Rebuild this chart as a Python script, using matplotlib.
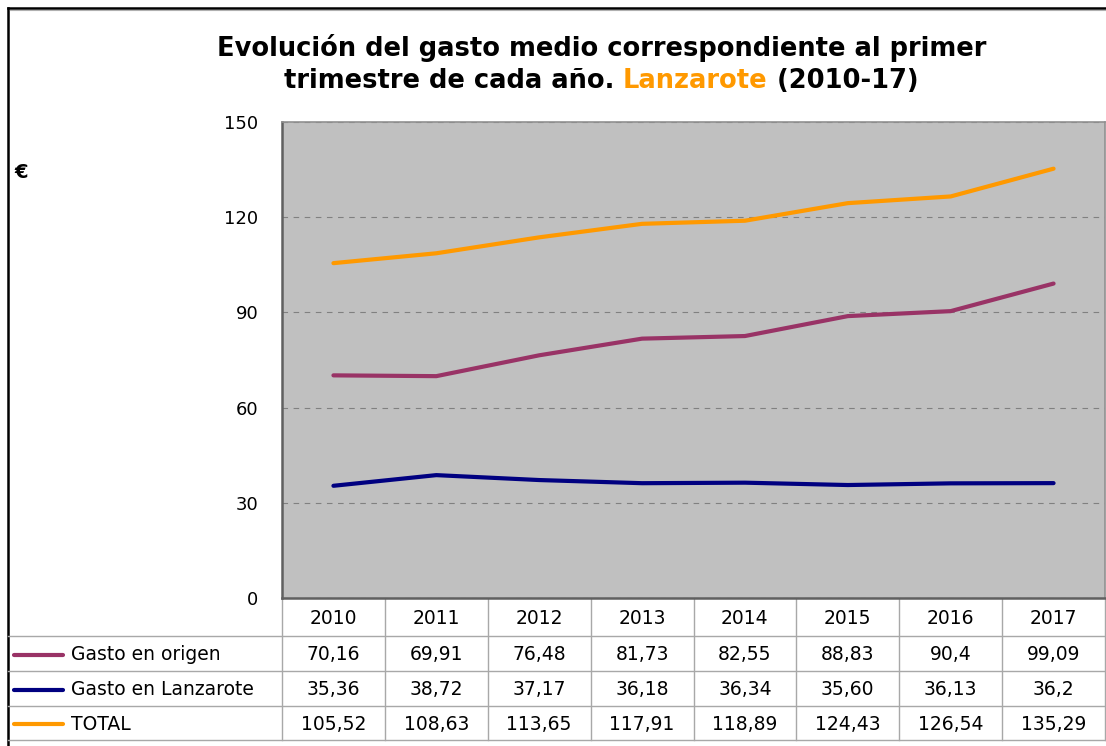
import matplotlib
matplotlib.use("Agg")
import matplotlib.pyplot as plt
from matplotlib.lines import Line2D

years = ["2010", "2011", "2012", "2013", "2014", "2015", "2016", "2017"]
series_names = ["Gasto en origen", "Gasto en Lanzarote", "TOTAL"]
gasto_origen = [70.16, 69.91, 76.48, 81.73, 82.55, 88.83, 90.4, 99.09]
gasto_lanzarote = [35.36, 38.72, 37.17, 36.18, 36.34, 35.60, 36.13, 36.2]
total = [105.52, 108.63, 113.65, 117.91, 118.89, 124.43, 126.54, 135.29]
table_text = [
    ["70,16", "69,91", "76,48", "81,73", "82,55", "88,83", "90,4", "99,09"],
    ["35,36", "38,72", "37,17", "36,18", "36,34", "35,60", "36,13", "36,2"],
    ["105,52", "108,63", "113,65", "117,91", "118,89", "124,43", "126,54", "135,29"],
]
colors = ["#993366", "#000080", "#FF9900"]

W, H = 1106, 746
fig = plt.figure(figsize=(W / 100, H / 100), dpi=100)
fig.patch.set_facecolor("white")

# background layer in pixel coordinates for frame + data table
bg = fig.add_axes([0, 0, 1, 1])
bg.set_xlim(0, W)
bg.set_ylim(H, 0)
bg.axis("off")

# chart frame (top and left borders)
bg.plot([8, W], [8, 8], color="black", lw=1.8)
bg.plot([8, 8], [8, H], color="black", lw=1.8)
bg.plot([10, W], [10, 10], color="#b0b0b0", lw=0.8)

p_left, p_right, p_top, p_bot = 282, 1105, 122, 598
ax = fig.add_axes([p_left / W, 1 - p_bot / H, (p_right - p_left) / W, (p_bot - p_top) / H])
ax.set_facecolor("#C0C0C0")
x = range(len(years))
for vals, c in zip([gasto_origen, gasto_lanzarote, total], colors):
    ax.plot(x, vals, color=c, lw=3.0, solid_capstyle="round", zorder=3)
ax.set_xlim(-0.5, len(years) - 0.5)
ax.set_ylim(0, 150)
ax.set_yticks(range(0, 151, 30))
ax.set_xticks([])
ax.tick_params(axis="y", length=0, pad=17, labelsize=13)
ax.yaxis.grid(True, linestyle=(0, (5, 5)), color="#808080", lw=0.8)
ax.set_axisbelow(True)
for s in ["top", "right"]:
    ax.spines[s].set_color("#909090")
    ax.spines[s].set_linewidth(1.2)
for s in ["left", "bottom"]:
    ax.spines[s].set_color("#606060")
    ax.spines[s].set_linewidth(1.8)

fig.text(14 / W, 1 - 172 / H, "€", fontsize=14, fontweight="bold", va="center", ha="left")

# data table
rows_y = [598, 636, 671, 706, 740]
col_w = (p_right - p_left) / len(years)
edges = [p_left + i * col_w for i in range(len(years) + 1)]
grid_c = "#a8a8a8"
fs = 13.5
for yv in rows_y[1:]:
    bg.plot([8, p_right], [yv, yv], color=grid_c, lw=1)
bg.plot([p_right, p_right], [rows_y[0], rows_y[-1]], color=grid_c, lw=1)
for e in edges[:-1]:
    bg.plot([e, e], [rows_y[0], rows_y[-1]], color=grid_c, lw=1)
for i, yr in enumerate(years):
    cx = (edges[i] + edges[i + 1]) / 2
    bg.text(cx, (rows_y[0] + rows_y[1]) / 2 + 1, yr, ha="center", va="center", fontsize=fs)
for r, (name, c) in enumerate(zip(series_names, colors)):
    cy = (rows_y[r + 1] + rows_y[r + 2]) / 2 + 1
    bg.add_line(Line2D([14, 63], [cy, cy], color=c, lw=3.0, solid_capstyle="round"))
    bg.text(71, cy, name, ha="left", va="center", fontsize=fs)
    for i, v in enumerate(table_text[r]):
        cx = (edges[i] + edges[i + 1]) / 2
        bg.text(cx, cy, v, ha="center", va="center", fontsize=fs)

# title
tsize = 18.5
fig.text(602 / W, 1 - 48 / H, "Evolución del gasto medio correspondiente al primer",
         ha="center", va="center", fontsize=tsize, fontweight="bold")
parts = [("trimestre de cada año. ", "black"), ("Lanzarote", "#FF9900"), (" (2010-17)", "black")]
renderer = fig.canvas.get_renderer()
texts = []
for s, c in parts:
    t = fig.text(0, 1 - 81 / H, s, ha="left", va="center", fontsize=tsize, fontweight="bold", color=c)
    texts.append(t)
widths = [t.get_window_extent(renderer).width for t in texts]
xpos = 601 - sum(widths) / 2
for t, w in zip(texts, widths):
    t.set_x(xpos / W)
    xpos += w

fig.savefig("out.png", dpi=100)
